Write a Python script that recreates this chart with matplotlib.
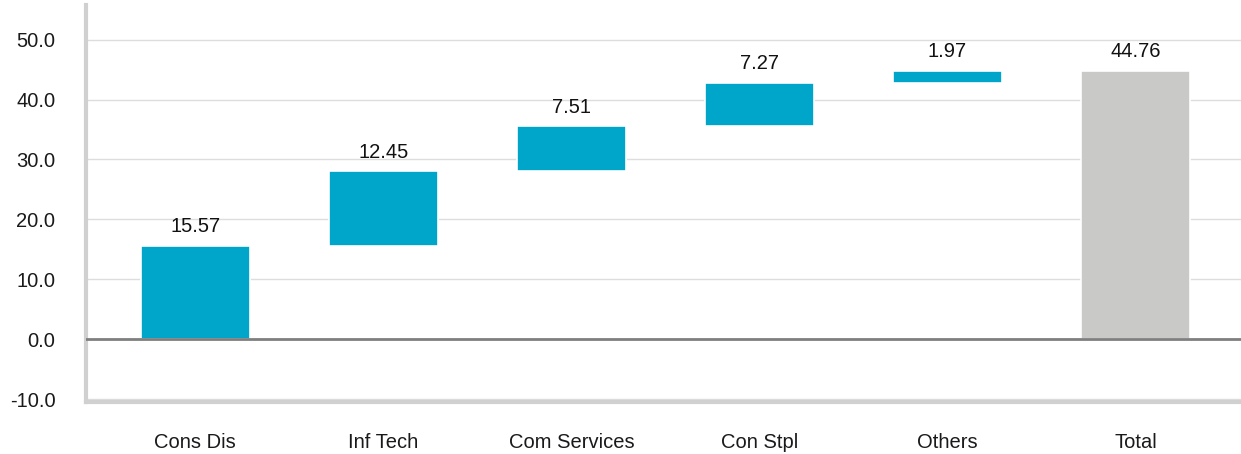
import numpy as np
import matplotlib.pyplot as plt

plt.rcParams['font.family'] = ['Liberation Sans', 'DejaVu Sans']

categories = ['Cons Dis', 'Inf Tech', 'Com Services', 'Con Stpl', 'Others', 'Total']
changes = [15.57, 12.45, 7.51, 7.27, 1.97]
total = 44.76

blue = '#00A5CA'
grey = '#C9C9C8'

x = np.arange(len(categories))
starts = np.concatenate([[0], np.cumsum(changes)[:-1]])
heights = list(changes) + [total]
bottoms = list(starts) + [0]
colors = [blue] * len(changes) + [grey]

fig = plt.figure(figsize=(12.41, 4.54), dpi=100)
ax = fig.add_axes([0.0693, 0.1145, 0.9307, 0.8745])

ax.bar(x, heights, bottom=bottoms, width=0.58, color=colors,
       edgecolor='white', linewidth=1.2, zorder=3)

for xi, b, h in zip(x, bottoms, heights):
    ax.annotate(f'{h:.2f}', (xi, b + h), xytext=(0, 7), textcoords='offset points',
                ha='center', va='bottom', fontsize=14.5, color='#111111')

ax.axhline(0, color='#7f7f7f', linewidth=2, zorder=4)

ax.set_ylim(-10.5, 55.8)
ax.set_xlim(-0.58, 5.56)
ax.set_yticks(np.arange(-10, 51, 10))
ax.set_yticklabels([f'{v:.1f}' for v in np.arange(-10, 51, 10)])
ax.set_xticks(x)
ax.set_xticklabels(categories)
ax.yaxis.grid(True, color='#DDDDDD', linewidth=1, zorder=0)
ax.set_axisbelow(True)

ax.tick_params(axis='both', length=0, labelsize=14.5, colors='#1a1a1a')
ax.tick_params(axis='x', pad=22)
ax.tick_params(axis='y', pad=22)

for side in ['top', 'right']:
    ax.spines[side].set_visible(False)
for side in ['left', 'bottom']:
    ax.spines[side].set_color('#D0D0D0')
    ax.spines[side].set_linewidth(3)

fig.savefig('out.png', dpi=100)
